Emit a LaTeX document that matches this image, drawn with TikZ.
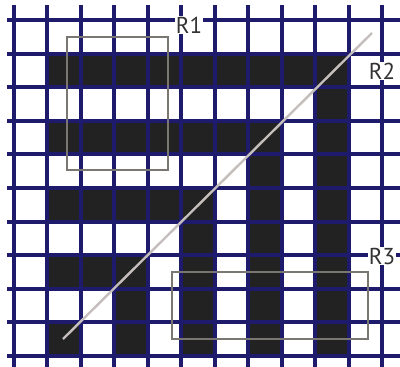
\documentclass[tikz,border=0pt]{standalone}
\usepackage{fontspec}
\setmainfont{PT Sans}
\definecolor{gridnavy}{HTML}{1E1B6C}
\definecolor{cellblack}{HTML}{222222}
\definecolor{roigray}{HTML}{7A7672}
\definecolor{diaggray}{HTML}{C4BEBC}
\definecolor{labelgray}{HTML}{333333}
\tikzset{
  gridline/.style={draw=gridnavy, line width=4pt},
  blackcell/.style={fill=cellblack},
  roibox/.style={draw=roigray, line width=1.4pt},
  diagline/.style={draw=diaggray, line width=2.4pt},
  roilabel/.style={fill=white, text=labelgray, inner sep=1pt, font=\fontsize{23}{23}\selectfont}
}
\begin{document}
\begin{tikzpicture}[x=1pt,y=-1pt]
\useasboundingbox (0,0) rectangle (400,367);
\fill[white] (0,0) rectangle (400,367);
% black cells (column, row)
\foreach \c/\r in {1/1,2/1,3/1,4/1,5/1,6/1,7/1,8/1,9/1,
                   9/2,
                   1/3,2/3,3/3,4/3,5/3,6/3,7/3,9/3,
                   7/4,9/4,
                   1/5,2/5,3/5,4/5,5/5,7/5,9/5,
                   5/6,7/6,9/6,
                   1/7,2/7,3/7,5/7,7/7,9/7,
                   3/8,5/8,7/8,9/8,
                   1/9,3/9,5/9,7/9,9/9}{
  \fill[blackcell] ({14+33.45*\c},{20+33.6*\r}) rectangle ({14+33.45*(\c+1)},{20+33.6*(\r+1)});
}
% grid lines
\foreach \i in {0,...,11}{
  \draw[gridline] ({14+33.45*\i},5) -- ({14+33.45*\i},367);
}
\foreach \j in {0,...,10}{
  \draw[gridline] (7,{20+33.6*\j}) -- (400,{20+33.6*\j});
}
% regions
\draw[roibox] (67,37) rectangle (168,170);
\draw[roibox] (172,272) rectangle (368,339);
\coordinate (d1) at (63,339);
\coordinate (d2) at (372,33);
\draw[diagline] (d1) -- (d2);
% labels
\node[roilabel] (r1) at (189,25) {R1};
\node[roilabel] (r2) at (382,71) {R2};
\node[roilabel] (r3) at (382,256) {R3};
\end{tikzpicture}
\end{document}
